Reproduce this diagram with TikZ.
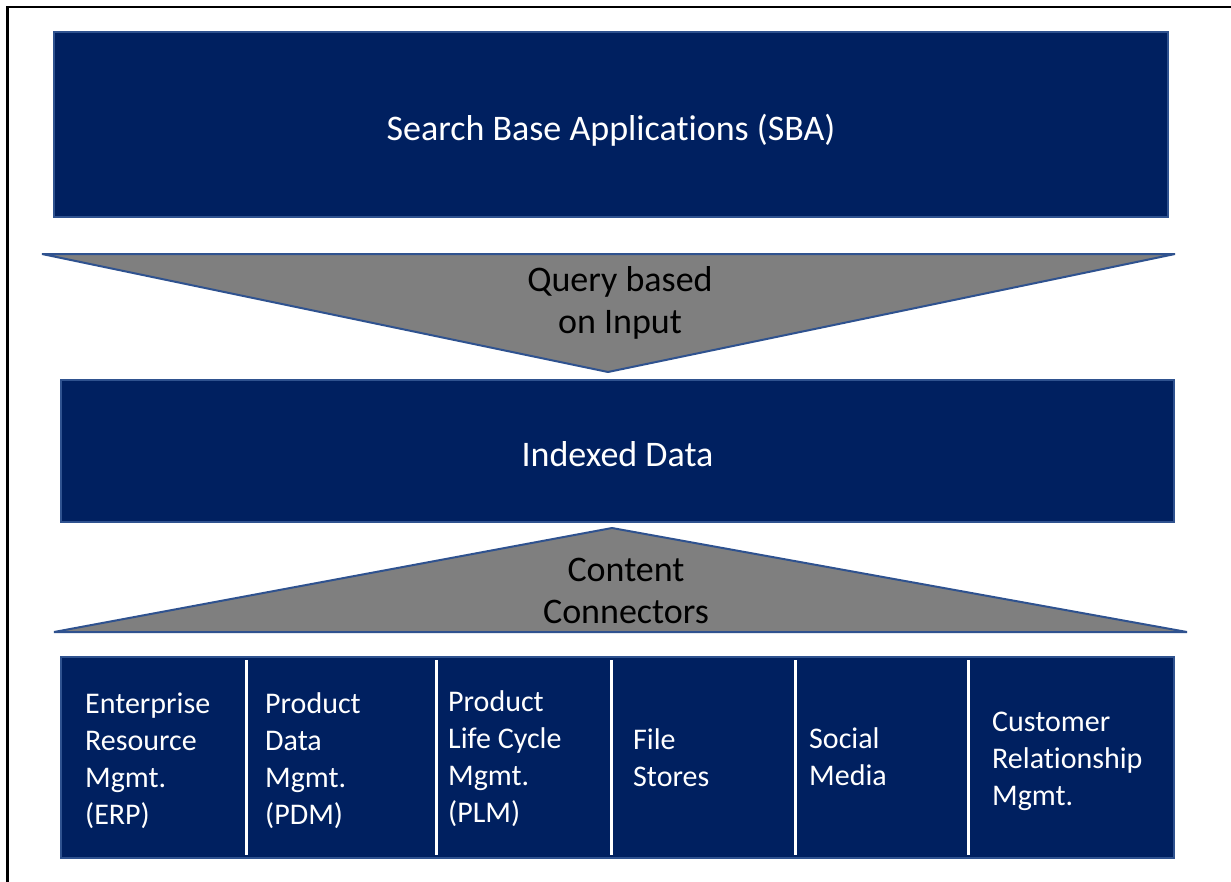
\documentclass[tikz,border=0pt]{standalone}
\usepackage{fontspec}
\setmainfont{Carlito}[Ligatures=NoCommon]
\definecolor{navy}{HTML}{002060}
\definecolor{edgeblue}{HTML}{2F528F}
\definecolor{trigray}{HTML}{7F7F7F}
\tikzset{
  bigbox/.style={draw=edgeblue, line width=2pt, fill=navy, text=white, inner sep=0pt,
    font=\fontsize{36}{42}\selectfont},
  boxtext/.style={text=white, inner sep=0pt, font=\fontsize{36}{42}\selectfont},
  tribox/.style={draw=edgeblue, line width=2pt, fill=trigray, line join=bevel},
  tritext/.style={text=black, align=center, inner sep=0pt, font=\fontsize{36}{42}\selectfont},
  celltext/.style={text=white, align=left, anchor=west, inner sep=0pt, font=\fontsize{30}{37}\selectfont},
  divider/.style={draw=white, line width=3pt},
  frame/.style={draw=black, line width=2.5pt}
}
\begin{document}
\begin{tikzpicture}[x=1pt,y=-1pt]
\useasboundingbox (0,0) rectangle (1231,881);
\fill[white] (0,0) rectangle (1231,881);
\draw[frame] (7.5,890) -- (7.5,7) -- (1240,7);

% SBA box
\node[bigbox, minimum width=1114pt, minimum height=185pt] (sba) at (611,124.5) {};
\node[boxtext] (sbatext) at (611,130) {Search Base Applications (SBA)};

% Query triangle
\coordinate (qa) at (42,254);
\coordinate (qb) at (1175,254);
\coordinate (qc) at (608,372);
\draw[tribox] (qa) -- (qb) -- (qc) -- cycle;
\node[tritext] (query) at (620,303) {Query based\\on Input};

% Indexed data
\node[bigbox, minimum width=1113pt, minimum height=142pt] (idx) at (617.5,451) {};
\node[boxtext] (idxtext) at (617.5,454) {Indexed Data};

% Content connectors triangle
\coordinate (ca) at (54,632);
\coordinate (cb) at (1187,632);
\coordinate (cc) at (612,528);
\draw[tribox] (ca) -- (cb) -- (cc) -- cycle;
\node[tritext] (conn) at (626,590.5) {Content\\Connectors};

% Bottom row
\node[bigbox, minimum width=1113pt, minimum height=201pt] (row) at (617.5,757.5) {};
\foreach \x in {246,436,611,795,968}{
  \draw[divider] (\x,660) -- (\x,855);
}
\node[celltext] (erp) at (85,761) {Enterprise\\Resource\\Mgmt.\\(ERP)};
\node[celltext] (pdm) at (265,761) {Product\\Data\\Mgmt.\\(PDM)};
\node[celltext] (plm) at (448,758.5) {Product\\Life Cycle\\Mgmt.\\(PLM)};
\node[celltext] (file) at (633,758) {File\\Stores};
\node[celltext] (social) at (809,756.5) {Social\\Media};
\node[celltext] (crm) at (992,761.5) {Customer\\Relationship\\Mgmt.};
\end{tikzpicture}
\end{document}
